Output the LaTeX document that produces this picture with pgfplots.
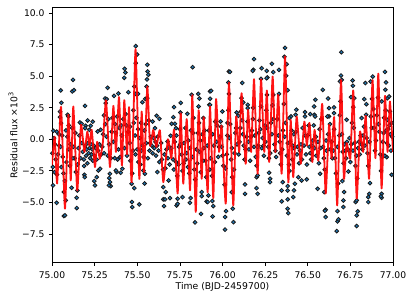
\documentclass[border=0pt]{standalone}
\usepackage{fontspec}
\setmainfont{DejaVu Sans}
\usepackage{pgfplots}
\pgfplotsset{compat=1.18}
\definecolor{dotblue}{HTML}{1F77B4}
\begin{document}
\begin{tikzpicture}
\path[use as bounding box] (-39pt,-27.375pt) rectangle (272.25pt,196.875pt);
\begin{axis}[
  scale only axis, width=255.75pt, height=191.25pt, at={(0,0)}, anchor=south west,
  xmin=75, xmax=77, ymin=-9.76, ymax=10.44, clip mode=individual,
  xtick={75,75.25,75.5,75.75,76,76.25,76.5,76.75,77},
  xticklabels={75.00,75.25,75.50,75.75,76.00,76.25,76.50,76.75,77.00},
  ytick={-7.5,-5,-2.5,0,2.5,5,7.5,10},
  yticklabels={−7.5,−5.0,−2.5,0.0,2.5,5.0,7.5,10.0},
  tick align=outside, major tick length=2.4pt, tick pos=left,
  tick style={black,line width=.54pt}, axis line style={line width=.6pt},
  ticklabel style={font=\fontsize{6.9}{8}\selectfont},
  xticklabel style={yshift=-0.8pt}, yticklabel style={xshift=0.3pt},
  xlabel={Time (BJD-2459700)}, ylabel={Residual flux ×10\textsuperscript{3}},
  label style={font=\fontsize{6.95}{8}\selectfont},
  xlabel style={at={(0.5,0)},anchor=base,yshift=-20.2pt},
  ylabel style={at={(0,0.5)},anchor=base,yshift=26pt},
]
\addplot[only marks, mark=*, mark size=1.45pt, mark options={fill=dotblue, draw=black!90, line width=.6pt}] coordinates {
(75.008,.67)(75.012,.09)(75.051,3.87)(75.055,2.89)(75.047,2.20)(75.047,1.75)(75.053,1.28)(75.092,1.94)(75.096,1.81)(75.123,4.71)(75.119,3.79)(75.129,3.89)(75.194,2.65)(75.164,1.33)(75.174,1.23)(75.197,1.07)(75.209,1.49)(75.227,1.07)(75.239,1.39)(75.219,.75)(75.194,.88)(75.268,.62)(75.285,.75)(75.311,3.23)(75.321,3.18)(75.326,4.08)(75.315,2.86)(75.364,3.44)(75.389,3.63)(75.424,4.87)(75.426,5.58)(75.430,5.29)(75.448,3.73)(75.491,7.38)(75.491,6.03)(75.499,6.72)(75.483,4.18)(75.491,3.60)(75.504,3.60)(75.530,2.94)(75.547,3.21)(75.559,5.90)(75.561,5.37)(75.565,5.11)(75.557,4.74)(75.555,4.18)(75.559,3.26)(75.614,1.86)(75.630,1.62)(75.590,1.41)(75.604,.88)(75.575,-.30)(75.678,-.17)(75.696,.28)(75.716,2.55)(75.712,1.75)(75.702,1.23)(75.721,1.23)(75.727,.88)(75.755,2.89)(75.753,2.12)(75.794,2.02)(75.825,5.71)(75.819,3.52)(75.858,3.60)(75.864,3.23)(75.860,2.60)(75.888,1.68)(75.923,2.73)(75.927,3.79)
(76.038,5.37)(76.044,5.34)(76.034,4.50)(76.038,3.60)(75.933,3.84)(75.927,3.21)(75.927,2.73)(76.116,4.47)(76.112,3.26)(76.122,2.92)(75.999,2.20)(75.989,1.41)(76.083,2.12)(76.093,1.86)(76.148,2.73)(76.148,2.47)(76.185,6.35)(76.181,5.50)(76.177,5.42)(76.226,4.79)(76.230,5.63)(76.259,5.42)(76.263,4.90)(76.259,4.84)(76.290,5.98)(76.298,5.32)(76.331,5.50)(76.367,7.24)(76.363,6.53)(76.376,5.95)(76.373,5.03)(76.382,3.89)(76.331,3.60)(76.298,3.52)(76.261,3.52)(76.433,2.34)(76.429,1.94)(76.402,1.81)(76.392,1.68)(76.484,2.15)(76.484,1.81)(76.515,1.99)(76.539,1.94)(76.543,1.81)(76.537,2.60)(76.545,3.13)(76.588,3.92)(76.619,3.23)(76.625,2.47)(76.625,1.81)(76.654,2.52)(76.654,2.07)(76.615,1.81)(76.697,6.90)(76.695,5.05)(76.689,4.58)(76.699,4.71)(76.763,4.66)(76.765,4.24)(76.754,3.34)(76.773,3.26)(76.767,2.55)(76.728,1.54)(76.832,3.18)(76.844,2.78)(76.838,4.45)(76.816,1.68)(76.842,1.94)(76.881,4.97)(76.869,4.58)(76.953,5.34)(76.959,4.50)(76.955,3.92)(76.967,3.26)(76.977,3.39)(76.934,3.00)(76.982,2.20)(76.967,1.54)
(75.006,-3.65)(75.027,-5.03)(75.070,-6.08)(75.076,-6.03)(75.080,-4.84)(75.070,-4.18)(75.115,-3.84)(75.145,-4.63)(75.145,-5.45)(75.149,-4.05)(75.188,-2.12)(75.190,-2.81)(75.192,-3.00)(75.252,-3.65)(75.248,-3.31)(75.262,-3.00)(75.272,-2.47)(75.282,-2.34)(75.340,-2.73)(75.336,-3.07)(75.340,-3.39)(75.344,-3.71)(75.334,-3.65)(75.379,-2.60)(75.375,-2.47)(75.403,-2.65)(75.413,-2.34)(75.469,-4.97)(75.471,-5.37)(75.512,-5.16)(75.483,-3.87)(75.467,-3.52)(75.543,-3.50)(75.545,-2.73)(75.536,-2.47)(75.618,-2.60)(75.653,-3.79)(75.653,-4.76)(75.663,-4.76)(75.657,-5.29)(75.667,-4.18)(75.684,-3.26)(75.692,-4.66)(75.737,-4.71)(75.731,-5.24)(75.737,-5.11)(75.766,-4.58)(75.809,-5.03)(75.813,-4.66)(75.839,-6.58)(75.874,-5.90)(75.878,-4.50)(75.878,-4.18)(75.907,-4.92)(75.917,-4.45)
(75.913,-4.97)(75.940,-4.89)(75.946,-5.29)(75.942,-6.11)(76.015,-7.16)(76.021,-5.69)(76.015,-6.16)(76.064,-6.56)(76.060,-5.50)(76.054,-4.18)(76.132,-3.58)(76.132,-4.32)(76.206,-4.32)(76.200,-3.87)(76.200,-3.00)(76.206,-2.86)(76.273,-2.65)(76.279,-3.13)(76.279,-3.39)(76.347,-4.92)(76.347,-4.05)(76.353,-3.39)(76.382,-5.50)(76.386,-5.85)(76.382,-4.76)(76.382,-4.05)(76.382,-3.71)(76.415,-4.58)(76.419,-4.05)(76.425,-3.52)(76.445,-3.00)(76.464,-3.26)(76.494,-3.18)(76.558,-3.92)(76.572,-2.73)(76.605,-5.58)(76.601,-5.66)(76.605,-6.16)(76.597,-4.18)(76.675,-6.50)(76.670,-7.27)(76.674,-5.69)(76.680,-6.34)(76.709,-5.37)(76.709,-4.84)(76.713,-4.18)(76.703,-3.31)(76.738,-2.55)(76.787,-6.87)(76.787,-6.03)(76.793,-5.71)(76.781,-4.97)(76.787,-4.84)(76.855,-4.97)(76.855,-4.58)(76.861,-4.32)(76.865,-3.47)(76.933,-4.63)(76.933,-4.32)(76.929,-4.52)(76.963,-1.41)(76.992,-2.81)
(75.002,-1.1)(75.005,-2.2)(75.018,-.4)(75.022,-1.6)(75.03,-2.8)(75.035,-1.2)(75.04,.4)(75.043,-.5)(75.06,.3)(75.063,-1.4)(75.067,-2.7)(75.085,-1.8)(75.09,.2)(75.1,-.8)(75.105,-2.1)(75.118,.9)(75.125,-.6)(75.133,-1.5)(75.14,-2.6)(75.155,-.7)(75.16,.3)(75.175,-.3)(75.18,-1.0)(75.187,-1.6)(75.195,-.5)(75.2,-1.3)(75.203,-.8)(75.208,-1.9)(75.212,-.3)(75.215,-1.1)(75.22,-.7)(75.224,-1.5)(75.228,-.4)(75.232,-1.2)(75.236,-.8)(75.24,-1.7)(75.245,-.5)(75.25,-1.3)(75.258,-.7)(75.262,-1.6)(75.27,-.9)(75.278,-.4)(75.288,-1.2)(75.295,-.6)(75.3,.4)(75.306,-1.1)(75.312,1.2)(75.32,.2)(75.328,-1.3)(75.335,-.4)(75.35,.6)(75.355,1.7)(75.36,-.2)(75.368,-1.5)(75.375,.5)(75.382,1.8)(75.39,-.8)(75.395,.9)(75.4,-1.4)(75.41,.3)(75.418,1.6)(75.425,-.7)(75.432,2.0)(75.44,-1.3)(75.447,.6)(75.455,-.3)(75.46,-1.7)(75.475,-.9)(75.48,1.3)(75.487,.3)(75.495,1.7)(75.5,-.8)(75.507,-1.8)(75.515,.1)(75.522,1.3)(75.53,-.5)(75.537,-1.4)(75.55,1.2)(75.553,-.3)(75.567,1.5)(75.572,-.9)(75.58,.2)(75.585,-.5)(75.59,-1.1)(75.596,.1)(75.6,-.7)(75.607,-.2)(75.61,-1.3)(75.616,-.5)(75.62,.2)(75.625,-.9)(75.63,-1.8)(75.64,-.3)(75.645,-1.6)(75.66,-1.2)(75.665,-2.3)(75.672,-.8)(75.68,-1.5)(75.69,-2.0)(75.7,-.7)(75.71,-1.6)(75.72,-.2)(75.728,-1.8)(75.735,-2.9)(75.745,-.6)(75.75,.8)(75.76,-1.2)(75.765,-2.5)(75.775,-.3)(75.782,.9)(75.79,-1.1)(75.8,-.1)(75.805,-2.7)(75.815,.7)(75.825,-1.4)(75.83,1.7)(75.84,-3.2)(75.848,-.8)(75.855,.5)(75.865,-1.0)(75.872,-2.6)(75.882,.4)(75.89,-.7)(75.9,-1.7)(75.905,-3.0)(75.92,.7)(75.93,-1.5)(75.938,-2.9)(75.95,-.5)(75.958,1.4)(75.965,-.2)(75.975,-1.4)(75.985,.2)(75.995,-.6)(76.005,-2.1)(76.012,-3.6)(76.025,-1.2)(76.03,1.3)(76.04,.1)(76.05,-1.6)(76.057,-3.0)(76.07,-1.1)(76.075,.5)(76.085,-.4)(76.095,-1.2)(76.105,.9)(76.115,1.5)(76.125,-.5)(76.13,-1.6)(76.142,.2)(76.155,-.8)(76.162,-1.7)(76.172,.7)(76.18,2.5)(76.19,.3)(76.195,-1.4)(76.21,-.5)(76.217,1.5)(76.225,2.6)(76.235,.1)(76.243,-1.3)(76.25,1.1)(76.258,2.3)(76.268,-.6)(76.28,-1.1)(76.285,1.3)(76.293,2.7)(76.305,-.4)(76.315,-1.4)(76.322,1.6)(76.335,-.2)(76.342,-2.0)(76.355,.7)(76.36,2.8)(76.37,1.3)(76.378,-1.3)(76.39,-2.0)(76.397,-.2)(76.405,.7)(76.41,-1.6)(76.42,-.7)(76.43,.6)(76.44,-.6)(76.45,-1.9)(76.46,-.4)(76.47,.9)(76.478,-.5)(76.49,-1.2)(76.5,.3)(76.51,-.6)(76.52,-1.6)(76.53,-.1)(76.54,-.7)(76.55,-1.3)(76.56,-.2)(76.57,.8)(76.58,1.6)(76.59,-.6)(76.6,-2.4)(76.61,-.9)(76.62,.4)(76.632,-.8)(76.645,-1.5)(76.655,.8)(76.665,-2.7)(76.678,-3.5)(76.688,1.9)(76.692,3.0)(76.7,.4)(76.71,-1.9)(76.72,-.9)(76.73,-.2)(76.742,-.9)(76.75,-1.8)(76.76,1.3)(76.77,.9)(76.78,-2.1)(76.79,-3.1)(76.8,-.2)(76.81,.3)(76.82,-.8)(76.83,1.0)(76.845,.1)(76.855,-2.1)(76.87,1.8)(76.877,3.2)(76.885,2.4)(76.895,-.9)(76.905,1.9)(76.912,3.3)(76.92,.6)(76.93,-2.5)(76.94,-.2)(76.948,1.7)(76.957,2.3)(76.965,-.3)(76.972,.8)(76.98,1.1)(76.988,-.9)(76.995,.2)
(75.015,-2.6)(75.028,.6)(75.05,-.6)(75.055,-2.2)(75.075,-3.3)(75.082,.7)(75.098,1.1)(75.108,-.4)(75.122,-1.5)(75.137,.5)(75.15,-2.0)(75.168,-1.5)(75.305,1.9)(75.33,1.6)(75.345,-1.5)(75.37,1.2)(75.385,-1.6)(75.405,1.1)(75.436,1.1)(75.458,1.0)(75.47,-2.7)(75.478,2.3)(75.49,-1.2)(75.505,.8)(75.518,-2.0)(75.525,-.9)(75.542,.7)(75.562,-1.5)(75.652,-2.4)(75.687,-.6)(75.715,-2.4)(75.73,.3)(75.742,-2.0)(75.752,-.4)(75.772,-1.9)(75.785,-1.6)(75.797,-2.2)(75.81,-.7)(75.828,.5)(75.835,-2.4)(75.852,-1.9)(75.862,1.3)(75.87,-.1)(75.885,-1.7)(75.895,.7)(75.91,-.5)(75.925,-2.4)(75.942,.4)(75.955,-1.8)(75.968,1.1)(75.98,-.6)(75.992,1.0)(76.0,-1.3)(76.018,-2.3)(76.028,.3)(76.035,2.3)(76.045,1.2)(76.055,-.7)(76.067,-2.4)(76.08,.9)(76.1,-.2)(76.108,2.2)(76.12,.4)(76.135,-.8)(76.147,1.4)(76.152,-.2)(76.168,.2)(76.178,1.6)(76.185,-.6)(76.2,-2.1)(76.205,-.6)(76.212,.5)(76.222,.8)(76.23,-.7)(76.24,-.5)(76.252,-.2)(76.262,.9)(76.272,-1.5)(76.29,.4)(76.298,1.6)(76.31,-.9)(76.328,.3)(76.338,-1.1)(76.35,-.8)(76.365,.2)(76.383,-.3)(76.393,-2.5)(76.412,-.5)(76.418,.4)(76.437,-1.2)(76.455,-.9)(76.465,-1.6)(76.485,.3)(76.495,-2.0)(76.505,1.1)(76.515,-1.1)(76.525,-.5)(76.535,1.1)(76.548,.2)(76.565,-1.9)(76.575,-.7)(76.595,-1.5)(76.608,-.1)(76.63,1.2)(76.64,-.2)(76.65,-.9)(76.66,-1.5)(76.675,-.6)(76.685,.3)(76.705,-1.0)(76.715,-.4)(76.725,-1.5)(76.735,-.8)(76.745,.1)(76.755,-.4)(76.765,-.9)(76.775,-.3)(76.785,-1.3)(76.795,-.7)(76.805,-1.2)(76.815,-.4)(76.825,.3)(76.835,-.5)(76.85,-1.1)(76.862,-.2)(76.875,.9)(76.89,.9)(76.9,-.1)(76.915,1.2)(76.925,-1.2)(76.937,-1.4)(76.945,.5)(76.952,-1.3)(76.96,.7)(76.975,-.5)(76.985,.4)(76.992,1.3)
};
\addplot[red, line width=1.35pt, opacity=.92, smooth, tension=.3, line join=round] coordinates {
(75.0,-2)(75.016,.2)(75.03,-3.5)(75.053,2.57)(75.076,-5.5)(75.096,1.94)(75.11,-3.26)(75.125,2.6)(75.148,-4.05)(75.17,1.15)(75.19,-1)(75.207,.6)(75.22,-.5)(75.233,.75)(75.252,-2.2)(75.265,-.2)(75.28,-1.55)(75.298,-.3)(75.317,3.1)(75.34,-2.2)(75.36,2.65)(75.375,-1)(75.393,3.35)(75.41,-2.07)(75.424,3.1)(75.44,-1.2)(75.452,2.55)(75.467,-3.4)(75.49,7.15)(75.512,-3.13)(75.526,2.2)(75.54,-2.6)(75.559,4.18)(75.575,-.5)(75.594,.75)(75.612,-.6)(75.633,.7)(75.653,-3.4)(75.68,0)(75.70,-1.5)(75.716,.75)(75.737,-4.3)(75.755,2.07)(75.77,-3.52)(75.79,1.6)(75.81,-4.05)(75.823,3.5)(75.843,-5.76)(75.86,2.3)(75.878,-3.13)(75.89,1.75)(75.913,-4.2)(75.927,2.6)(75.946,-4.67)(75.962,3.18)(75.98,-1)(75.995,1.07)(76.019,-5.1)(76.038,4.5)(76.063,-5.24)(76.08,1.8)(76.098,-1)(76.112,3.65)(76.136,-1.94)(76.15,2.33)(76.168,-1)(76.185,4.76)(76.206,-2.73)(76.226,4.76)(76.245,-1)(76.26,3.87)(76.274,-1.8)(76.294,4.97)(76.31,-1)(76.327,3.52)(76.347,-2.73)(76.367,6.56)(76.386,-3.4)(76.40,1.54)(76.415,-3)(76.435,1.8)(76.459,-1.94)(76.48,1.4)(76.495,-.5)(76.51,1.3)(76.527,-1.8)(76.54,.75)(76.562,-1.68)(76.585,2.8)(76.605,-4.3)(76.625,1.15)(76.64,-1.5)(76.655,1.76)(76.673,-5.24)(76.695,4.7)(76.712,-3.13)(76.728,-.3)(76.75,-1.5)(76.767,3.87)(76.787,-4.7)(76.806,.6)(76.825,-1)(76.84,1.86)(76.86,-3.13)(76.88,4.7)(76.897,-1.5)(76.914,5.2)(76.933,-3.9)(76.953,3.44)(76.968,-1)(76.982,3)(77,-1)
};
\end{axis}
\end{tikzpicture}
\end{document}
